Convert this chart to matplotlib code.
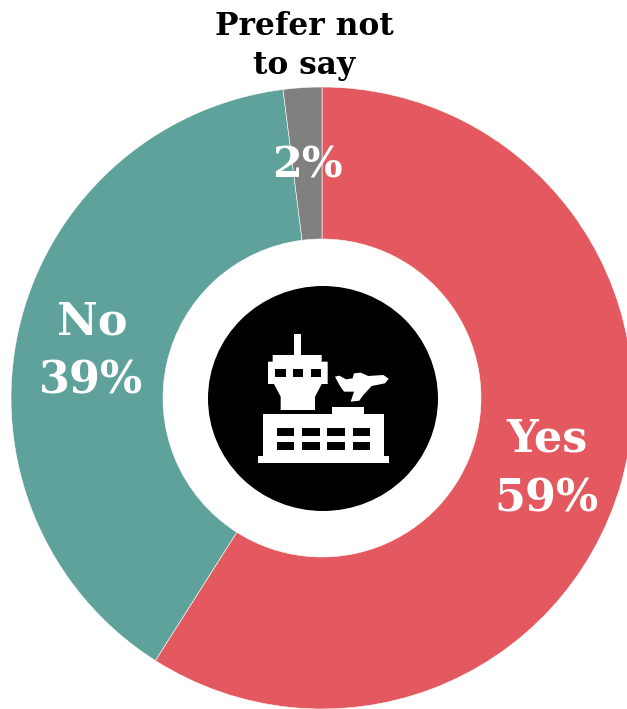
import matplotlib
matplotlib.use("Agg")
import matplotlib.pyplot as plt
from matplotlib.patches import Ellipse, Polygon

categories = ["Yes", "No", "Prefer not\nto say"]
shares = [59, 39, 2]
colours = ["#E4595F", "#5FA29B", "#808080"]

W, H = 627, 709
SERIF = ["Georgia", "DejaVu Serif"]

fig = plt.figure(figsize=(W / 100, H / 100), dpi=100)
ax = fig.add_axes([0, 0, 1, 1])

cx, cy, outer, inner = 322, H - 398, 311, 159
ax.pie(shares, colors=colours, startangle=90, counterclock=False,
       center=(cx, cy), radius=outer, frame=True,
       wedgeprops=dict(width=outer - inner, edgecolor="#ffffff", linewidth=0.4))
ax.set_xlim(0, W)
ax.set_ylim(0, H)
ax.set_aspect("equal")
ax.axis("off")

# Airport badge in the hole of the ring
ax.add_patch(Ellipse((323, H - 398.5), 230, 225, facecolor="black", edgecolor="none", zorder=3))


def P(u, v):
    """Icon grid (thirds of a pixel, from its own corner) to axes units."""
    return 200 + u / 3, H - (280 + v / 3)


def poly(points, colour="white"):
    ax.add_patch(Polygon([P(*p) for p in points], closed=True, facecolor=colour,
                         edgecolor="none", zorder=4))


def box(u0, v0, u1, v1, colour="black"):
    poly([(u0, v0), (u1, v0), (u1, v1), (u0, v1)], colour)


# control tower
box(282, 163, 303, 230, "white")
poly([(218, 225), (365, 225), (365, 245), (383, 245), (383, 312), (365, 312),
      (345, 350), (345, 390), (242, 390), (242, 350), (222, 312), (204, 312),
      (204, 245), (218, 245)])
for u0, u1 in [(225, 257), (278, 308), (332, 362)]:
    box(u0, 268, u1, 292)

# terminal
poly([(190, 403), (395, 403), (395, 382), (492, 382), (492, 403), (551, 403),
      (551, 527), (567, 527), (567, 550), (174, 550), (174, 527), (190, 527)])
for v0, v1 in [(443, 467), (487, 511)]:
    for u0, u1 in [(230, 283), (306, 360), (382, 435), (458, 511)]:
        box(u0, v0, u1, v1)

# aeroplane
poly([(405, 290), (418, 287), (438, 298), (458, 295), (462, 280), (482, 278),
      (505, 288), (550, 285), (566, 296), (555, 310), (515, 318), (490, 345),
      (478, 362), (452, 365), (462, 335), (432, 335), (420, 318)])

# Ring labels
label_kw = dict(ha="center", va="center", family=SERIF, weight="bold", zorder=5)
ax.text(547, H - 439, categories[0], color="white", fontsize=32, **label_kw)
ax.text(547, H - 499, f"{shares[0]}%", color="white", fontsize=32, **label_kw)
ax.text(92, H - 322, categories[1], color="white", fontsize=32, **label_kw)
ax.text(91, H - 381, f"{shares[1]}%", color="white", fontsize=32, **label_kw)
ax.text(307, H - 166, f"{shares[2]}%", color="white", fontsize=31, **label_kw)
ax.text(304, H - 46, categories[2], color="black", fontsize=22.5, linespacing=1.36, **label_kw)

fig.savefig("out.png", dpi=100)
